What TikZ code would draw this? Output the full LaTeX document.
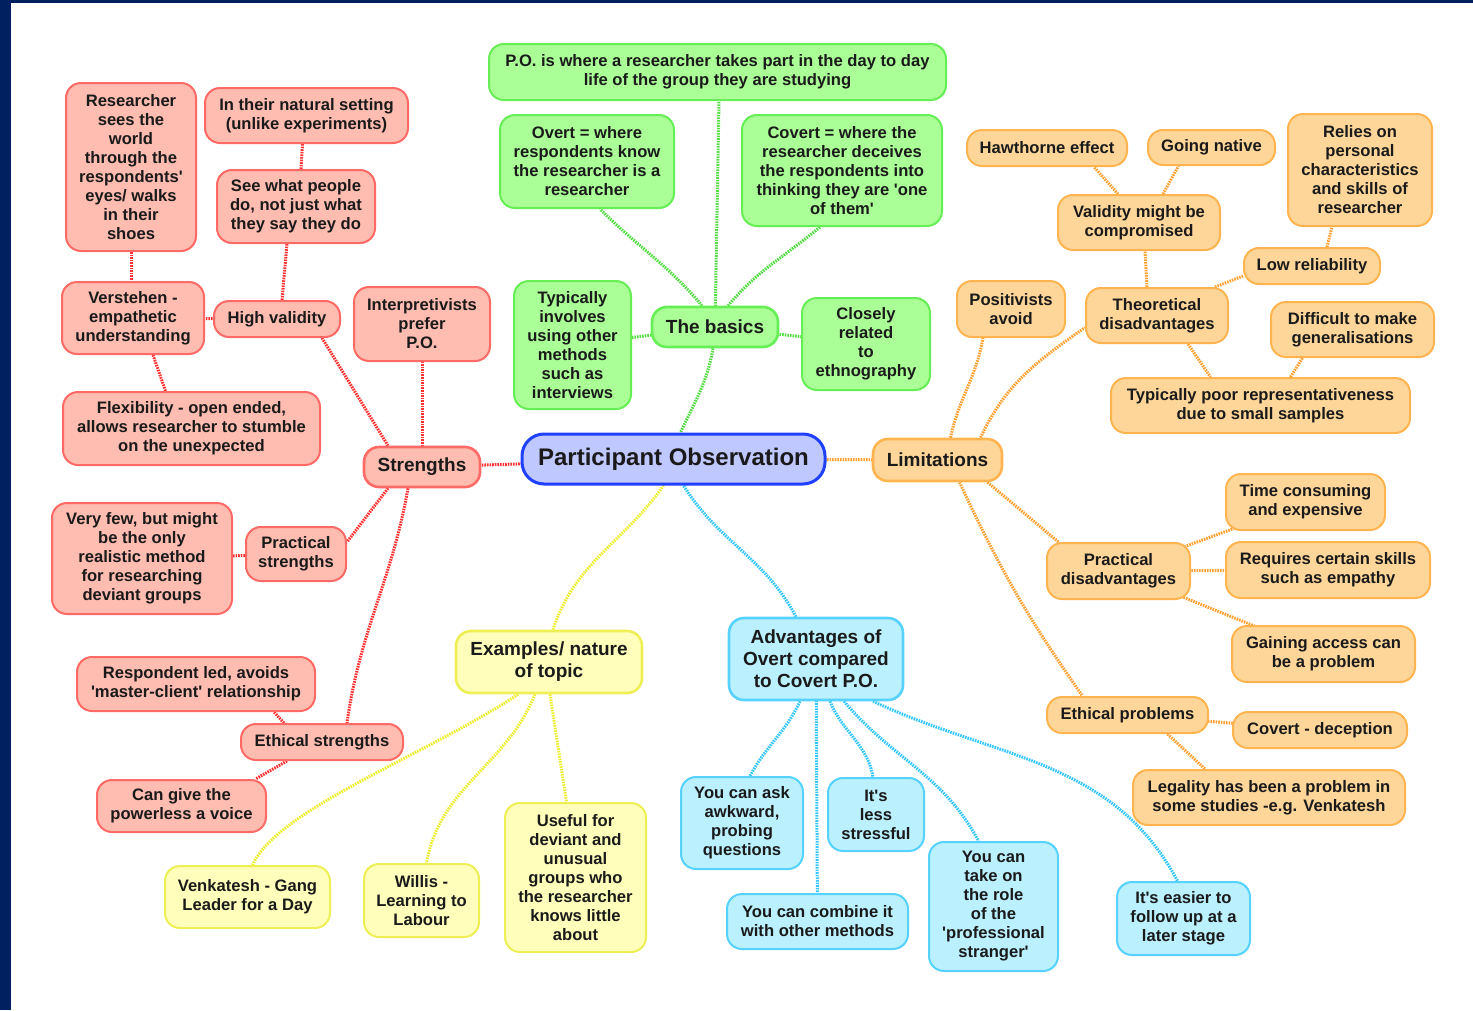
\documentclass[tikz,border=0pt]{standalone}
\usepackage{fontspec}
\setmainfont{Liberation Sans}[Ligatures=TeXOff]
\pgfdeclarelayer{bg}
\pgfsetlayers{bg,main}
\definecolor{navy}{HTML}{002060}
\definecolor{txt}{HTML}{1A1A1A}
\definecolor{rF}{HTML}{FFBCB0}\definecolor{rB}{HTML}{FF6A66}\definecolor{rL}{HTML}{FF3030}
\definecolor{gF}{HTML}{AAFF96}\definecolor{gB}{HTML}{66EE55}\definecolor{gL}{HTML}{55DD44}
\definecolor{oF}{HTML}{FFD699}\definecolor{oB}{HTML}{FFB450}\definecolor{oL}{HTML}{FFA030}
\definecolor{yF}{HTML}{FFFFBB}\definecolor{yB}{HTML}{EEEE55}\definecolor{yL}{HTML}{EEEE30}
\definecolor{cF}{HTML}{BBF0FF}\definecolor{cB}{HTML}{55D2FF}\definecolor{cL}{HTML}{33C6FF}
\definecolor{pF}{HTML}{BFC8FF}\definecolor{pB}{HTML}{2040FF}
\tikzset{
  box/.style={rectangle, rounded corners=15pt, line width=2pt, align=center, inner sep=2pt,
    font=\bfseries\fontsize{16.6}{19}\selectfont, text=txt},
  lvlone/.style={line width=2.6pt, font=\bfseries\fontsize{19}{22}\selectfont},
  rbox/.style={box, draw=rB, fill=rF},
  gbox/.style={box, draw=gB, fill=gF},
  obox/.style={box, draw=oB, fill=oF},
  ybox/.style={box, draw=yB, fill=yF},
  cbox/.style={box, draw=cB, fill=cF},
  conn/.style={line width=3pt, dash pattern=on 1.6pt off 1pt},
  rline/.style={conn, draw=rL},
  gline/.style={conn, draw=gL},
  oline/.style={conn, draw=oL},
  yline/.style={conn, draw=yL},
  cline/.style={conn, draw=cL},
}
\begin{document}
\begin{tikzpicture}[x=1pt,y=-1pt]
\useasboundingbox (0,0) rectangle (1473,1010);
\fill[navy] (0,0) rectangle (11,1010);
\fill[navy] (0,0) rectangle (1473,3);

% central
\node[box, draw=pB, fill=pF, line width=3pt, rounded corners=22pt, minimum width=303pt, minimum height=50pt,
  font=\bfseries\fontsize{24}{28}\selectfont] (po) at (673.5,459) {Participant Observation};

% red
\node[rbox, minimum width=130pt, minimum height=168pt] (researcher) at (131,167) {Researcher\\sees the\\world\\through the\\respondents'\\eyes/ walks\\in their\\shoes};
\node[rbox, minimum width=203pt, minimum height=55pt] (natural) at (306.5,115.5) {In their natural setting\\(unlike experiments)};
\node[rbox, minimum width=158pt, minimum height=73pt] (seewhat) at (296,206.5) {See what people\\do, not just what\\they say they do};
\node[rbox, minimum width=142pt, minimum height=72pt] (verst) at (133,318) {Verstehen -\\empathetic\\understanding};
\node[rbox, minimum width=126pt, minimum height=36pt] (hv) at (277,319) {High validity};
\node[rbox, minimum width=136pt, minimum height=74pt] (interp) at (422,324) {Interpretivists\\prefer\\P.O.};
\node[rbox, minimum width=257pt, minimum height=73pt] (flex) at (191.5,428.5) {Flexibility - open ended,\\allows researcher to stumble\\on the unexpected};
\node[rbox, lvlone, minimum width=116pt, minimum height=40pt] (strengths) at (422,467) {Strengths};
\node[rbox, minimum width=180pt, minimum height=111pt] (verydev) at (142,558.5) {Very few, but might\\be the only\\realistic method\\for researching\\deviant groups};
\node[rbox, minimum width=100pt, minimum height=54pt] (ps) at (296,554) {Practical\\strengths};
\node[rbox, minimum width=238pt, minimum height=54pt] (resp) at (196,684) {Respondent led, avoids\\'master-client' relationship};
\node[rbox, minimum width=162pt, minimum height=36pt] (es) at (322,742) {Ethical strengths};
\node[rbox, minimum width=169pt, minimum height=52pt] (cangive) at (181.5,806) {Can give the\\powerless a voice};

% green
\node[gbox, minimum width=457pt, minimum height=56pt] (pois) at (717.5,72) {P.O. is where a researcher takes part in the day to day\\life of the group they are studying};
\node[gbox, minimum width=174pt, minimum height=93pt] (overt) at (587,161.5) {Overt = where\\respondents know\\the researcher is a\\researcher};
\node[gbox, minimum width=200pt, minimum height=111pt] (covert) at (842,170.5) {Covert = where the\\researcher deceives\\the respondents into\\thinking they are 'one\\of them'};
\node[gbox, minimum width=117pt, minimum height=128pt] (typ) at (572.5,345) {Typically\\involves\\using other\\methods\\such as\\interviews};
\node[gbox, lvlone, minimum width=126pt, minimum height=40pt] (basics) at (715,327) {The basics};
\node[gbox, minimum width=128pt, minimum height=92pt] (closely) at (866,344) {Closely\\related\\to\\ethnography};

% orange
\node[obox, lvlone, minimum width=129pt, minimum height=42pt] (lim) at (937.5,460) {Limitations};
\node[obox, minimum width=108pt, minimum height=56pt] (posit) at (1011,309) {Positivists\\avoid};
\node[obox, minimum width=142pt, minimum height=55pt] (theo) at (1157,315.5) {Theoretical\\disadvantages};
\node[obox, minimum width=162pt, minimum height=55pt] (valid) at (1139,222.5) {Validity might be\\compromised};
\node[obox, minimum width=160pt, minimum height=36pt] (haw) at (1047,148) {Hawthorne effect};
\node[obox, minimum width=127pt, minimum height=35pt] (going) at (1211.5,147.5) {Going native};
\node[obox, minimum width=144pt, minimum height=112pt] (relies) at (1360,170) {Relies on\\personal\\characteristics\\and skills of\\researcher};
\node[obox, minimum width=136pt, minimum height=36pt] (lowrel) at (1312,266) {Low reliability};
\node[obox, minimum width=163pt, minimum height=55pt] (diff) at (1352.5,329.5) {Difficult to make\\generalisations};
\node[obox, minimum width=299pt, minimum height=55pt] (typpoor) at (1260.5,405.5) {Typically poor representativeness\\due to small samples};
\node[obox, minimum width=143pt, minimum height=56pt] (pract) at (1118.5,571) {Practical\\disadvantages};
\node[obox, minimum width=159pt, minimum height=56pt] (time) at (1305.5,502) {Time consuming\\and expensive};
\node[obox, minimum width=204pt, minimum height=56pt] (req) at (1328,570) {Requires certain skills\\such as empathy};
\node[obox, minimum width=183pt, minimum height=56pt] (gain) at (1323.5,654) {Gaining access can\\be a problem};
\node[obox, minimum width=161pt, minimum height=36pt] (ethp) at (1127.5,715) {Ethical problems};
\node[obox, minimum width=174pt, minimum height=36pt] (covdec) at (1320,730) {Covert - deception};
\node[obox, minimum width=272pt, minimum height=55pt] (legal) at (1269,797.5) {Legality has been a problem in\\some studies -e.g. Venkatesh};

% yellow
\node[ybox, lvlone, minimum width=186pt, minimum height=62pt] (ex) at (549,662) {Examples/ nature\\of topic};
\node[ybox, minimum width=165pt, minimum height=62pt] (venk) at (247.5,897) {Venkatesh - Gang\\Leader for a Day};
\node[ybox, minimum width=115pt, minimum height=73pt] (willis) at (421.5,900.5) {Willis -\\Learning to\\Labour};
\node[ybox, minimum width=141pt, minimum height=149pt] (useful) at (575.5,877.5) {Useful for\\deviant and\\unusual\\groups who\\the researcher\\knows little\\about};

% cyan
\node[cbox, lvlone, minimum width=174pt, minimum height=82pt] (adv) at (816,659) {Advantages of\\Overt compared\\to Covert P.O.};
\node[cbox, minimum width=122pt, minimum height=92pt] (ask) at (742,823) {You can ask\\awkward,\\probing\\questions};
\node[cbox, minimum width=181pt, minimum height=55pt] (combine) at (817.5,921.5) {You can combine it\\with other methods};
\node[cbox, minimum width=96pt, minimum height=73pt] (less) at (876,814.5) {It's\\less\\stressful};
\node[cbox, minimum width=129pt, minimum height=129pt] (role) at (993.5,906.5) {You can\\take on\\the role\\of the\\'professional\\stranger'};
\node[cbox, minimum width=133pt, minimum height=73pt] (easier) at (1183.5,918.5) {It's easier to\\follow up at a\\later stage};

\begin{pgfonlayer}{bg}
% red
\draw[rline] (strengths.center) -- (po.center);
\draw[rline] ([xshift=-34pt]strengths.north) -- ([xshift=45pt]hv.south);
\draw[rline] (strengths.center) -- (interp.center);
\draw[rline] ([xshift=-34pt]strengths.south) -- ([yshift=12pt]ps.east);
\draw[rline] ([xshift=-14pt]strengths.south) to[out=-100,in=82] ([xshift=25pt]es.north);
\draw[rline] (verst.center) -- (hv.center);
\draw[rline] ([xshift=5pt]hv.north) -- ([xshift=-9pt]seewhat.south);
\draw[rline] ([xshift=5pt]seewhat.north) -- ([xshift=-4pt]natural.south);
\draw[rline] (researcher.south) -- ([xshift=-2pt]verst.north);
\draw[rline] ([xshift=20pt]verst.south) -- ([xshift=-26pt]flex.north);
\draw[rline] (verydev.center) -- (ps.center);
\draw[rline] ([xshift=-38pt]es.north) -- ([xshift=78pt]resp.south);
\draw[rline] ([xshift=-35pt]es.south) -- ([xshift=74pt]cangive.north);
% green
\draw[gline] (basics.center) -- ([xshift=2pt]pois.center);
\draw[gline] ([xshift=-13pt]basics.north) to[out=130,in=-45] ([xshift=13pt]overt.south);
\draw[gline] ([xshift=13pt]basics.north) to[out=50,in=-140] ([xshift=-22pt]covert.south);
\draw[gline] (typ.center) -- (basics.center);
\draw[gline] (basics.center) -- (closely.center);
\draw[gline] ([xshift=-2pt]basics.south) to[out=-100,in=65] ([xshift=7pt]po.north);
% orange
\draw[oline] (po.center) -- (lim.center);
\draw[oline] ([xshift=13pt]lim.north) to[out=78,in=-100] ([xshift=-28pt]posit.south);
\draw[oline] ([xshift=43pt]lim.north) to[out=65,in=-145] ([yshift=-12pt]theo.west);
\draw[oline] ([xshift=50pt]lim.south) -- ([xshift=-60pt]pract.north);
\draw[oline] ([xshift=22pt]lim.south) to[out=-65,in=125] ([xshift=-45pt]ethp.north);
\draw[oline] ([xshift=-10pt]theo.north) -- ([xshift=6pt]valid.south);
\draw[oline] ([xshift=-21pt]valid.north) -- ([xshift=47pt]haw.south);
\draw[oline] ([xshift=24pt]valid.north) -- ([xshift=-33pt]going.south);
\draw[oline] ([xshift=58pt]theo.north) -- ([yshift=-10pt]lowrel.west);
\draw[oline] ([xshift=15pt]lowrel.north) -- ([xshift=-28pt]relies.south);
\draw[oline] ([xshift=31pt]theo.south) -- ([xshift=-50pt]typpoor.north);
\draw[oline] ([xshift=30pt]typpoor.north) -- ([xshift=-50pt]diff.south);
\draw[oline] (pract.center) -- (time.center);
\draw[oline] (pract.center) -- (req.center);
\draw[oline] (pract.center) -- (gain.center);
\draw[oline] (ethp.center) -- (covdec.center);
\draw[oline] ([xshift=40pt]ethp.south) -- ([xshift=-64pt]legal.north);
% yellow
\draw[yline] ([xshift=4pt]ex.north) to[out=72,in=-125] ([xshift=-10pt]po.south);
\draw[yline] ([xshift=-31pt]ex.south) .. controls +(-90,60) and +(25,-56) .. ([xshift=5pt]venk.north);
\draw[yline] ([xshift=-14pt]ex.south) to[out=-112,in=80] ([xshift=5pt]willis.north);
\draw[yline] ([xshift=1pt]ex.south) -- ([xshift=-9pt]useful.north);
% cyan
\draw[cline] ([xshift=-20pt]adv.north) to[out=118,in=-58] ([xshift=10pt]po.south);
\draw[cline] ([xshift=-16pt]adv.south) to[out=-115,in=62] ([xshift=8pt]ask.north);
\draw[cline] (adv.center) -- (combine.center);
\draw[cline] ([xshift=14pt]adv.south) to[out=-68,in=100] ([xshift=-3pt]less.north);
\draw[cline] ([xshift=28pt]adv.south) to[out=-50,in=118] ([xshift=-15pt]role.north);
\draw[cline] ([xshift=57pt]adv.south) to[out=-25,in=118] ([xshift=-6pt]easier.north);
\end{pgfonlayer}
\end{tikzpicture}
\end{document}
